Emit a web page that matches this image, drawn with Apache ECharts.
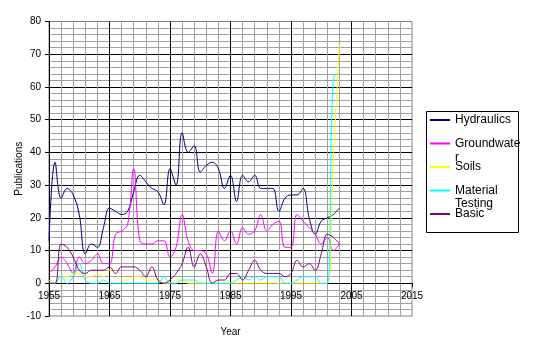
<!DOCTYPE html>
<html>
<head>
<meta charset="utf-8">
<script src="https://cdn.jsdelivr.net/npm/echarts@6/dist/echarts.min.js"></script>
<style>
  html, body { margin: 0; padding: 0; background: #fff; }
  #main { width: 548px; height: 352px; }
</style>
</head>
<body>
<div id="main"></div>
<script>
// years on the x axis
var years = [1955, 1956, 1957, 1958, 1959, 1960, 1961, 1962, 1963, 1964,
  1965, 1966, 1967, 1968, 1969, 1970, 1971, 1972, 1973, 1974,
  1975, 1976, 1977, 1978, 1979, 1980, 1981, 1982, 1983, 1984,
  1985, 1986, 1987, 1988, 1989, 1990, 1991, 1992, 1993, 1994,
  1995, 1996, 1997, 1998, 1999, 2000, 2001, 2002, 2003];

// publications per year
var hydraulics = [13, 37, 26, 29, 27, 21, 9, 12, 11, 17,
  23, 22, 21, 22, 28, 33, 31, 29, 28, 24,
  35, 30, 46, 40, 42, 34, 36, 37, 35, 29,
  33, 25, 33, 31, 33, 29, 29, 29, 22, 26,
  27, 27, 29, 20, 15, 19, 20, 21, 23];
var groundwater = [3, 5, 8, 6, 3, 8, 6, 7, 9, 6,
  6, 15, 16, 18, 35, 13, 12, 12, 13, 13,
  8, 11, 21, 13, 10, 10, 9, 3, 16, 13,
  16, 12, 17, 15, 16, 21, 16, 18, 19, 11,
  11, 21, 19, 17, 15, 12, 14, 10, 12];
var soils = [1, 0, 2, 2, 3, 3, 2, 2, 3, 2,
  4, 3, 1, 1, 2, 2, 1, 1, 1, 0,
  0, 1, 1, 0, 0, 0, 0, 0, 0, 0,
  0, 0, 0, 0, 0, 0, 0, 0, 0, 0,
  0, 0, 0, 0, 0, 0, 0, 38, 73];
var materialTesting = [0, 0, 2, 0, 2, 6, 1, 0, 0, 1,
  0, 0, 0, 0, 0, 0, 0, 0, 0, 2,
  0, 0, 1, 1, 1, 0, 0, 0, 0, 0,
  0, 1, 2, 1, 2, 1, 2, 2, 2, 0,
  0, 1, 2, 2, 2, 0, 0, 63, 64];
var basic = [0, 0, 12, 11, 8, 4, 3, 4, 4, 4,
  5, 3, 5, 5, 5, 4, 2, 5, 1, 0,
  1, 3, 6, 11, 5, 9, 5, 0, 1, 1,
  3, 3, 1, 4, 7, 4, 3, 3, 3, 2,
  3, 7, 5, 6, 4, 9, 15, 14, 12];

var seriesNames = ["Hydraulics", "Groundwater", "Soils", "Material Testing", "Basic"];
var seriesColors = ["#000080", "#ff00ff", "#ffff00", "#00ffff", "#800080"];
var seriesValues = [hydraulics, groundwater, soils, materialTesting, basic];

var font = "Liberation Sans, Arial, sans-serif";

// plot box
var gridTop = 21.5, gridBottom = 36;
var plotH = 352 - gridTop - gridBottom;
var yMin = -10, yMax = 80;
// x axis sits on the zero line, so shift it up from the bottom edge
var zeroOffset = -plotH * (0 - yMin) / (yMax - yMin);

function pairs(vals) {
  return years.map(function (y, i) { return [y, vals[i]]; });
}

var myChart = echarts.init(document.getElementById("main"), null, { renderer: "canvas" });

var option = {
  animation: false,
  backgroundColor: "#fff",
  grid: {
    left: 49, right: 136, top: gridTop, bottom: gridBottom,
    outerBoundsMode: "none",
    show: true, borderColor: "#808080", borderWidth: 1, backgroundColor: "#fff"
  },
  legend: {
    orient: "vertical",
    left: 430,
    top: 113,
    padding: 0,
    icon: "rect",
    itemWidth: 20,
    itemHeight: 2,
    itemGap: 9.5,
    selectedMode: false,
    textStyle: { fontFamily: font, fontSize: 12, color: "#000", lineHeight: 14 },
    formatter: function (name) {
      if (name === "Groundwater") return "Groundwate";
      if (name === "Material Testing") return "Material";
      return name;
    },
    data: seriesNames
  },
  graphic: [
    { type: "rect", shape: { x: 426.5, y: 111.5, width: 92, height: 121 },
      style: { fill: null, stroke: "#000", lineWidth: 1 }, z: 1 },
    { type: "text", x: 455, y: 157.5, style: { text: "r", font: "12px " + font, fill: "#000", verticalAlign: "middle" } },
    { type: "text", x: 455, y: 204, style: { text: "Testing", font: "12px " + font, fill: "#000", verticalAlign: "middle" } }
  ],
  xAxis: {
    type: "value",
    min: 1955, max: 2015, interval: 10,
    position: "bottom",
    offset: zeroOffset,
    name: "Year",
    nameLocation: "middle",
    nameGap: 43.5,
    nameMoveOverlap: false,
    nameTextStyle: { fontFamily: font, fontSize: 10, color: "#000" },
    axisLine: { onZero: false, lineStyle: { color: "#000", width: 1 } },
    axisTick: { show: true, length: 4, lineStyle: { color: "#000" } },
    axisLabel: { fontFamily: font, fontSize: 10, color: "#000", margin: 8,
      formatter: function (v) { return String(v); } },
    splitLine: { show: true, showMinLine: false, showMaxLine: false, lineStyle: { color: "#000", width: 1 } },
    minorTick: { show: false, splitNumber: 5 },
    minorSplitLine: { show: true, lineStyle: { color: "#a0a0a0", width: 1 } }
  },
  yAxis: {
    type: "value",
    min: yMin, max: yMax, interval: 10,
    name: "Publications",
    nameLocation: "middle",
    nameGap: 24.5,
    nameMoveOverlap: false,
    nameTextStyle: { fontFamily: font, fontSize: 10, color: "#000" },
    axisLine: { show: true, onZero: false, lineStyle: { color: "#000", width: 1 } },
    axisTick: { show: true, length: 4, lineStyle: { color: "#000" } },
    axisLabel: { fontFamily: font, fontSize: 10, color: "#000", margin: 8 },
    splitLine: { show: true, showMinLine: false, showMaxLine: false, lineStyle: { color: "#000", width: 1 } },
    minorTick: { show: false, splitNumber: 5 },
    minorSplitLine: { show: true, lineStyle: { color: "#a0a0a0", width: 1 } }
  },
  series: seriesNames.map(function (name, i) {
    return {
      name: name,
      type: "line",
      smooth: 0.4,
      symbol: "none",
      color: seriesColors[i],
      lineStyle: { width: 1, color: seriesColors[i] },
      data: pairs(seriesValues[i])
    };
  })
};

myChart.setOption(option);
</script>
</body>
</html>
